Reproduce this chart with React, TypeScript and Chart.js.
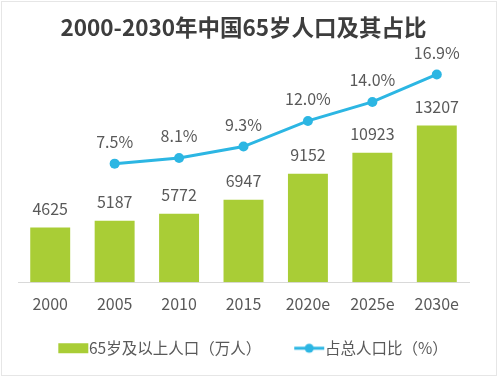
import React, { useEffect, useRef } from "react";
import { Chart, registerables } from "chart.js";

Chart.register(...registerables);

const categories = ["2000", "2005", "2010", "2015", "2020e", "2025e", "2030e"];
const populationValues = [4625, 5187, 5772, 6947, 9152, 10923, 13207];
const shareValues: (number | null)[] = [null, 7.5, 8.1, 9.3, 12.0, 14.0, 16.9];
const seriesNames = ["65岁及以上人口（万人）", "占总人口比（%）"];
const titleText = "2000-2030年中国65岁人口及其占比";

const BAR_COLOR = "#a9cd36";
const LINE_COLOR = "#2cb6e3";
const TEXT_COLOR = "#595959";
const FONT = "'Noto Sans CJK SC', 'Noto Sans', sans-serif";

function makeBarIcon() {
  const c = document.createElement("canvas");
  c.width = 100;
  c.height = 12;
  const ctx = c.getContext("2d")!;
  ctx.fillStyle = BAR_COLOR;
  ctx.fillRect(48, 1, 30, 10);
  return c;
}

function makeLineIcon() {
  const c = document.createElement("canvas");
  c.width = 100;
  c.height = 12;
  const ctx = c.getContext("2d")!;
  ctx.strokeStyle = LINE_COLOR;
  ctx.lineWidth = 3;
  ctx.beginPath();
  ctx.moveTo(48, 6);
  ctx.lineTo(78, 6);
  ctx.stroke();
  ctx.fillStyle = LINE_COLOR;
  ctx.beginPath();
  ctx.arc(63, 6, 4.5, 0, Math.PI * 2);
  ctx.fill();
  return c;
}

const valueLabelPlugin = {
  id: "valueLabels",
  afterDatasetsDraw(chart: any) {
    const ctx = chart.ctx;
    ctx.save();
    ctx.fillStyle = TEXT_COLOR;
    ctx.font = `16px ${FONT}`;
    ctx.textAlign = "center";
    ctx.textBaseline = "middle";
    chart.data.datasets.forEach((ds: any, di: number) => {
      const meta = chart.getDatasetMeta(di);
      meta.data.forEach((el: any, i: number) => {
        const v = ds.data[i];
        if (v === null || v === undefined) return;
        if (ds.type === "bar") {
          ctx.fillText(String(v), el.x, el.y - 19);
        } else {
          ctx.fillText(v.toFixed(1) + "%", el.x, el.y - 22);
        }
      });
    });
    ctx.restore();
  },
};

const borderPlugin = {
  id: "outerBorder",
  afterDraw(chart: any) {
    const ctx = chart.ctx;
    ctx.save();
    ctx.strokeStyle = "#e6e6e6";
    ctx.lineWidth = 1;
    ctx.strokeRect(1.5, 1.5, 495, 374);
    ctx.restore();
  },
};

export default function App() {
  const ref = useRef<HTMLCanvasElement>(null);

  useEffect(() => {
    document.body.style.margin = "0";
    const barIcon = makeBarIcon();
    const lineIcon = makeLineIcon();
    const chart = new Chart(ref.current!, {
      type: "bar",
      data: {
        labels: categories,
        datasets: [
          {
            type: "bar",
            label: seriesNames[0],
            data: populationValues,
            backgroundColor: BAR_COLOR,
            barPercentage: 0.62,
            categoryPercentage: 1,
            yAxisID: "y",
            order: 1,
          } as any,
          {
            type: "line",
            label: seriesNames[1],
            data: shareValues,
            borderColor: LINE_COLOR,
            backgroundColor: LINE_COLOR,
            borderWidth: 3,
            pointRadius: 5,
            pointBackgroundColor: LINE_COLOR,
            pointBorderWidth: 0,
            yAxisID: "y2",
            order: 0,
            spanGaps: false,
          } as any,
        ],
      },
      options: {
        animation: false,
        responsive: false,
        layout: { padding: { left: 18, right: 31, top: 0, bottom: 12 } },
        plugins: {
          title: {
            display: true,
            text: titleText,
            color: "#3d3d3d",
            font: { family: FONT, size: 22.5, weight: "bold" },
            padding: { top: 14, bottom: 4 },
          },
          legend: {
            position: "bottom",
            labels: {
              usePointStyle: true,
              pointStyleWidth: 42,
              padding: 14,
              color: TEXT_COLOR,
              font: { family: FONT, size: 15.5 },
              generateLabels(ch: any) {
                const items = Chart.defaults.plugins.legend.labels.generateLabels(ch);
                items.sort((a: any, b: any) => a.datasetIndex - b.datasetIndex);
                items.forEach((it: any) => {
                  it.pointStyle = it.datasetIndex === 0 ? barIcon : lineIcon;
                });
                return items;
              },
            },
          },
          tooltip: { enabled: false },
        },
        scales: {
          x: {
            grid: { display: false, drawTicks: false },
            border: { display: true, color: "#d9d9d9", width: 1 },
            ticks: {
              color: TEXT_COLOR,
              font: { family: FONT, size: 16 },
              padding: 12,
            },
            afterFit(scale: any) {
              scale.height += 1;
            },
          },
          y: {
            display: false,
            min: 0,
            max: 20000,
          },
          y2: {
            display: false,
            min: -5,
            max: 20,
          },
        },
      },
      plugins: [valueLabelPlugin, borderPlugin],
    });
    return () => chart.destroy();
  }, []);

  return <canvas ref={ref} width={500} height={378} style={{ display: "block" }} />;
}
